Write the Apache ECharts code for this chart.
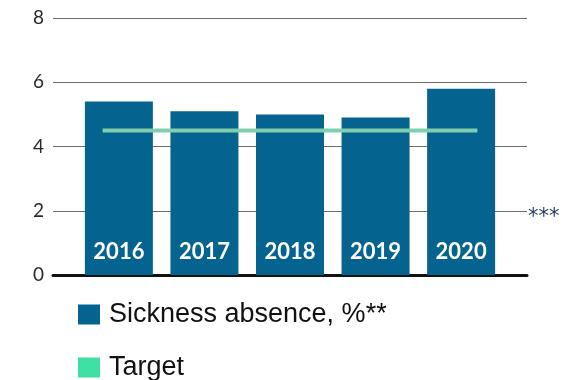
<!DOCTYPE html>
<html>
<head>
<meta charset="utf-8">
<script src="https://cdn.jsdelivr.net/npm/echarts@6/dist/echarts.min.js"></script>
<style>html,body{margin:0;padding:0;background:#fff;}#c{width:565px;height:380px;}</style>
</head>
<body>
<div id="c"></div>
<script>
const years = [2016, 2017, 2018, 2019, 2020];
const sickness = [5.4, 5.1, 5.0, 4.9, 5.8];
const target = [4.5, 4.5, 4.5, 4.5, 4.5];
const yTicks = [0, 2, 4, 6, 8];
const seriesNames = ['Sickness absence, %**', 'Target'];

const chart = echarts.init(document.getElementById('c'));
const barData = years.map((y, i) => [y, sickness[i]]);
const ext = 0.19;
const targetData = years.map((y, i) => [y, target[i]]);
targetData[0] = [years[0] - ext, target[0]];
targetData[targetData.length - 1] = [years[years.length - 1] + ext, target[target.length - 1]];

const legendBase = {
  orient: 'vertical', left: 73,
  itemWidth: 22, itemHeight: 20,
  textStyle: { fontSize: 27, fontFamily: 'Liberation Sans', color: '#111', padding: [0, 0, 0, 4] }
};

chart.setOption({
  animation: false,
  grid: { left: 53, right: 38, top: 18, bottom: 105 },
  xAxis: {
    type: 'value', min: 2015.23, max: 2020.77,
    axisLabel: { show: false }, axisTick: { show: false }, splitLine: { show: false },
    axisLine: { show: true, lineStyle: { color: '#111', width: 3 } }
  },
  yAxis: {
    type: 'value', min: yTicks[0], max: yTicks[yTicks.length - 1], interval: 2,
    axisLine: { show: false }, axisTick: { show: false },
    axisLabel: { color: '#2a2a2a', fontSize: 19, fontFamily: 'Lato', margin: 9 },
    splitLine: { lineStyle: { color: '#6e6e6e', width: 1 } }
  },
  legend: [
    Object.assign({}, legendBase, { top: 296, data: [{ name: seriesNames[0], icon: 'rect' }] }),
    Object.assign({}, legendBase, { top: 349, data: [{ name: seriesNames[1], icon: 'rect', itemStyle: { color: '#3ddfa3' } }] })
  ],
  graphic: [{
    type: 'text', left: 528, top: 207,
    style: { text: '***', fontSize: 21, fill: '#1f3b5c', fontFamily: 'DejaVu Sans' }
  }],
  series: [
    {
      name: seriesNames[0], type: 'bar', data: barData, barWidth: 68,
      itemStyle: { color: '#05638f' },
      label: {
        show: true, position: 'insideBottom', distance: 12,
        formatter: p => String(p.value[0]),
        color: '#fff', fontSize: 22, fontWeight: 'bold', fontFamily: 'Lato'
      }
    },
    {
      name: seriesNames[1], type: 'line', data: targetData, symbol: 'none',
      lineStyle: { color: '#7fcfae', width: 4 }, itemStyle: { color: '#3ddfa3' }, z: 5
    }
  ]
});
</script>
</body>
</html>
